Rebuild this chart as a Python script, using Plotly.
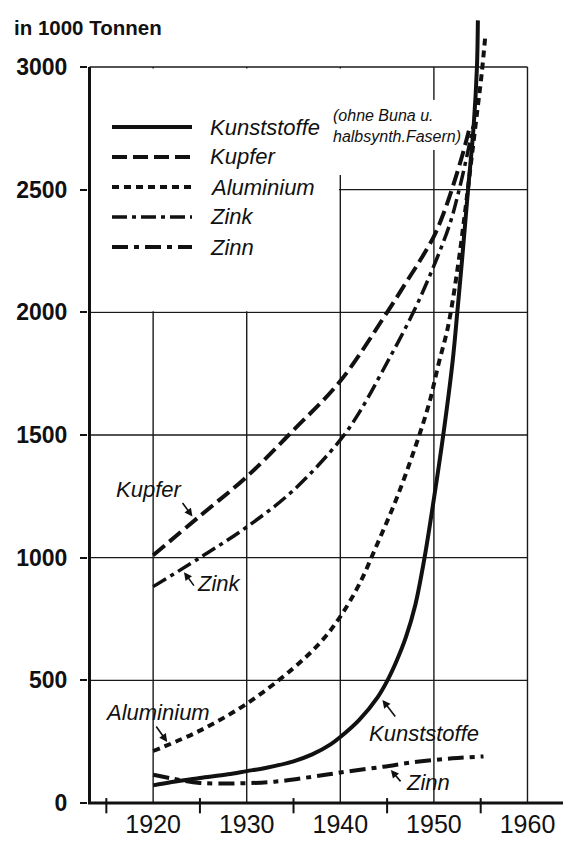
import plotly.graph_objects as go

# ---------------- data ----------------
years_kunst = [1920, 1922, 1925, 1928, 1930, 1932, 1935, 1937, 1939, 1940, 1942, 1944, 1945,
               1946, 1947, 1948, 1949, 1950, 1951, 1952, 1952.5, 1953, 1953.65, 1954.25,
               1954.6, 1954.7]
vals_kunst = [72, 86, 102, 117, 130, 143, 170, 198, 240, 269, 338, 432, 497,
              578, 675, 805, 1000, 1240, 1500, 1800, 2000, 2210, 2500, 2760,
              3000, 3190]

years_kupfer = [1920, 1925, 1930, 1935, 1940, 1945, 1947, 1948.5, 1950, 1951, 1952, 1953, 1953.8]
vals_kupfer = [1010, 1170, 1330, 1520, 1720, 2000, 2120, 2210, 2310, 2400, 2510, 2635, 2750]

years_alu = [1920, 1925, 1930, 1935, 1938, 1940, 1942, 1944, 1946, 1948, 1949.5, 1950.5,
             1951.5, 1952.5, 1953.3, 1954, 1954.6, 1955.1, 1955.5]
vals_alu = [212, 295, 405, 550, 660, 760, 890, 1060, 1240, 1450, 1630, 1790,
            1940, 2170, 2400, 2620, 2810, 2970, 3130]

years_zink = [1920, 1925, 1930, 1935, 1940, 1942, 1944.5, 1947.8, 1950, 1951.7, 1952.7, 1953.6, 1954.2]
vals_zink = [882, 1000, 1125, 1275, 1480, 1590, 1760, 2000, 2190, 2360, 2500, 2650, 2760]

years_zinn = [1920, 1922, 1925, 1929, 1933, 1937, 1940.7, 1944.6, 1948.2, 1952, 1955.3]
vals_zinn = [115, 100, 82, 80, 87, 107, 128, 148, 168, 182, 190]

series_names = ["Kunststoffe", "Kupfer", "Aluminium", "Zink", "Zinn"]

x_label_years = [1920, 1930, 1940, 1950, 1960]
x_minor_years = [1915, 1925, 1935, 1945, 1955]
y_tick_vals = [0, 500, 1000, 1500, 2000, 2500, 3000]
y_tick_text = ["0", "500", "1000", "1500", "2000", "2500", "3000"]
y_title = "in 1000 Tonnen"
note_text = "(ohne Buna u.<br>halbsynth.Fasern)"

# ---------------- styling ----------------
# The page body has an 8px margin, so the figure is drawn 8px in and
# every position below is given in page pixels and shifted by OFF.
OFF = 8
FIG_W, FIG_H = 571 - OFF, 841 - OFF
ML, MR, MT, MB = 88 - OFF, 0, 0, 23
X_RANGE = [1913.04, 1964.65]
Y_RANGE = [-61.1, 3240.5]
X_AXIS_POS = 1913.2
FONT = "Liberation Sans, Arial, sans-serif"
INK = "#111111"

styles = {
    "Kunststoffe": dict(dash="solid", width=4),
    "Kupfer": dict(dash="15px,6px", width=4),
    "Aluminium": dict(dash="7px,5px", width=4),
    "Zink": dict(dash="15px,5px,4px,5px", width=3.5),
    "Zinn": dict(dash="16px,6px,5px,6px", width=4),
}

PW = FIG_W - ML - MR
PH = FIG_H - MT - MB


def PX(px):
    return (px - OFF - ML) / PW


def PY(py):
    return (FIG_H - MB - (py - OFF)) / PH


fig = go.Figure()

data = [
    ("Zinn", years_zinn, vals_zinn),
    ("Zink", years_zink, vals_zink),
    ("Aluminium", years_alu, vals_alu),
    ("Kupfer", years_kupfer, vals_kupfer),
    ("Kunststoffe", years_kunst, vals_kunst),
]
for name, xs, ys in data:
    st = styles[name]
    fig.add_trace(go.Scatter(
        x=xs, y=ys, mode="lines", name=name, showlegend=False,
        line=dict(color=INK, width=st["width"], dash=st["dash"],
                  shape="spline", smoothing=1.0),
        hoverinfo="skip",
    ))

shapes = []
grid = dict(color="#1a1a1a", width=1.4)
for yr in x_label_years:
    shapes.append(dict(type="line", xref="x", yref="y", x0=yr, x1=yr,
                       y0=0, y1=y_tick_vals[-1], line=grid, layer="below"))
for v in y_tick_vals[1:]:
    shapes.append(dict(type="line", xref="x", yref="y", x0=X_AXIS_POS,
                       x1=x_label_years[-1], y0=v, y1=v, line=grid, layer="below"))
blank = [
    (X_AXIS_POS + 0.1, 1939.85, 2004, 2994),
    (1939.6, 1940.4, 2560, 2994),
    (1949.6, 1950.4, 2662, 2866),
]
for x0, x1, y0, y1 in blank:
    shapes.append(dict(type="rect", xref="x", yref="y", x0=x0, x1=x1, y0=y0, y1=y1,
                       fillcolor="white", line=dict(width=0), layer="below"))
shapes.append(dict(type="line", xref="x", yref="y", x0=X_AXIS_POS, x1=X_AXIS_POS,
                   y0=0, y1=y_tick_vals[-1], line=dict(color=INK, width=3)))
shapes.append(dict(type="line", xref="x", yref="y", x0=X_RANGE[0], x1=X_RANGE[1],
                   y0=0, y1=0, line=dict(color=INK, width=3)))
for yr in x_minor_years:
    shapes.append(dict(type="line", xref="x", yref="y", x0=yr, x1=yr,
                       y0=-42, y1=20, line=dict(color=INK, width=2)))

legend_rows = [127, 157, 187, 217, 247]
for name, ry in zip(series_names, legend_rows):
    st = styles[name]
    shapes.append(dict(type="line", xref="paper", yref="paper",
                       x0=PX(112), x1=PX(192), y0=PY(ry), y1=PY(ry),
                       line=dict(color=INK, width=st["width"], dash=st["dash"])))

annotations = []
for name, ry in zip(series_names, legend_rows):
    annotations.append(dict(text=f"<i>{name}</i>", xref="paper", yref="paper",
                            x=PX(208), y=PY(ry), xanchor="left", yanchor="middle",
                            showarrow=False, font=dict(family=FONT, size=22, color=INK)))
annotations.append(dict(text=f"<i>{note_text}</i>", xref="paper", yref="paper",
                        x=PX(331), y=PY(126), xanchor="left", yanchor="middle", align="left",
                        showarrow=False, font=dict(family=FONT, size=16, color=INK)))
annotations.append(dict(text=f"<b>{y_title}</b>", xref="paper", yref="paper",
                        x=PX(12), y=PY(27), xanchor="left", yanchor="middle",
                        showarrow=False, font=dict(family=FONT, size=20.5, color=INK)))

labels = [
    ("Kupfer", 149, 490),
    ("Zink", 219, 583),
    ("Aluminium", 157, 712),
    ("Kunststoffe", 424, 733),
    ("Zinn", 428, 782),
]
for name, cx, cy in labels:
    annotations.append(dict(text=f"<i>{name}</i>", xref="paper", yref="paper",
                            x=PX(cx), y=PY(cy), xanchor="center", yanchor="middle",
                            showarrow=False, font=dict(family=FONT, size=22, color=INK)))
arrows = [
    (1924.2, 1168, -11, -15),
    (1923.3, 941, 11, 15),
    (1921.5, 249, -12, -17),
    (1944.5, 420, 14, 18),
    (1945.4, 135, 11, 13),
]
for tx, ty, ax, ay in arrows:
    annotations.append(dict(text="", x=tx, y=ty, xref="x", yref="y",
                            ax=ax, ay=ay, showarrow=True, arrowhead=2,
                            arrowsize=1, arrowwidth=1.6, arrowcolor=INK, standoff=0))

fig.update_layout(
    width=FIG_W, height=FIG_H,
    margin=dict(l=ML, r=MR, t=MT, b=MB, pad=0, autoexpand=False),
    paper_bgcolor="white", plot_bgcolor="white",
    showlegend=False,
    shapes=shapes, annotations=annotations,
    xaxis=dict(range=X_RANGE, showgrid=False, zeroline=False, showline=False,
               tickmode="array", tickvals=x_label_years,
               ticktext=[str(y) for y in x_label_years], automargin=False,
               ticks="", tickfont=dict(family=FONT, size=25, color=INK),
               ticklabelstandoff=-11, fixedrange=True),
    yaxis=dict(range=Y_RANGE, showgrid=False, zeroline=False, showline=False,
               tickmode="array", tickvals=y_tick_vals, ticktext=y_tick_text,
               ticks="outside", ticklen=7, tickwidth=2, tickcolor=INK, automargin=False,
               tickfont=dict(family=FONT, size=23, color=INK, weight="bold"),
               ticklabelstandoff=8, fixedrange=True),
)

fig.write_html("out.html")
